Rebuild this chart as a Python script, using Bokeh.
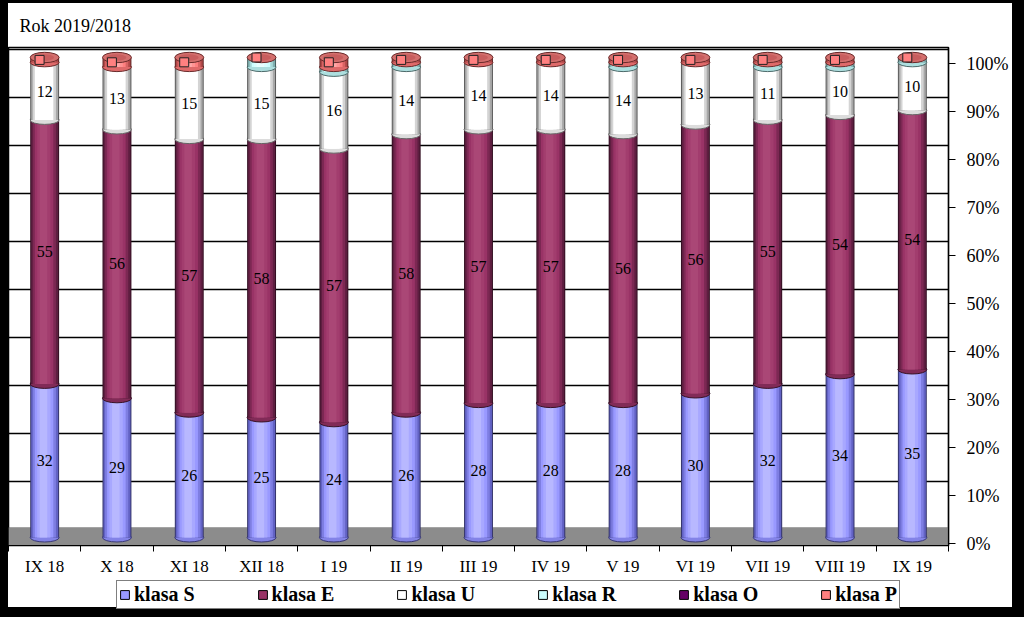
import numpy as np
from bokeh.plotting import figure
from bokeh.layouts import column
from bokeh.models import (Range1d, LinearAxis, FixedTicker, Grid, Legend, LegendItem,
                          ColumnDataSource, BoxAnnotation)
from bokeh.transform import dodge
from bokeh.core.properties import value
from bokeh.embed import file_html
from bokeh.resources import INLINE

# ---------------- data ----------------
months = ["IX 18", "X 18", "XI 18", "XII 18", "I 19", "II 19", "III 19",
          "IV 19", "V 19", "VI 19", "VII 19", "VIII 19", "IX 19"]
klasa_S = [32, 29, 26, 25, 24, 26, 28, 28, 28, 30, 32, 34, 35]
klasa_E = [55, 56, 57, 58, 57, 58, 57, 57, 56, 56, 55, 54, 54]
klasa_U = [12, 13, 15, 15, 16, 14, 14, 14, 14, 13, 11, 10, 10]
klasa_R = [0, 0, 0, 2, 1, 1, 0, 0, 1, 0, 1, 1, 1]
klasa_O = [0, 0, 0, 0, 0, 0, 0, 0, 0, 0, 0, 0, 0]
klasa_P = [1, 2, 2, 0, 2, 1, 1, 1, 1, 1, 1, 1, 0]
series_names = ["klasa S", "klasa E", "klasa U", "klasa R", "klasa O", "klasa P"]
pct_ticks = [0, 10, 20, 30, 40, 50, 60, 70, 80, 90, 100]

# ---------------- styling ----------------
SERIF = "Liberation Serif"
colors = {
    "klasa S": ("#9999FF", "#6262C4", "#B8B8FF"),
    "klasa E": ("#993366", "#5E1E40", "#AA4776"),
    "klasa U": ("#FFFFFF", "#A8A8A8", "#FFFFFF"),
    "klasa R": ("#CCFFFF", "#7FB0B0", "#E8FFFF"),
    "klasa O": ("#660066", "#380038", "#803380"),
    "klasa P": ("#FF8080", "#B04848", "#FFA8A8"),
}


def mix(c1, c2, t):
    a = [int(c1[i:i + 2], 16) for i in (1, 3, 5)]
    b = [int(c2[i:i + 2], 16) for i in (1, 3, 5)]
    return "#%02x%02x%02x" % tuple(int(round(a[k] + (b[k] - a[k]) * t)) for k in range(3))


W_FIG, H_MAIN, H_LEG = 1024, 580, 37
MB_L, MB_R, MB_T, MB_B = 8, 76, 47, 35
FRAME_H = H_MAIN - MB_T - MB_B          # 498 px
PPU = 4.8                               # px per percent
BAR_W = 0.40                            # in category units
ELL_H = 9 / PPU                         # ellipse height in % units

bar_start = -8 / PPU
axis_start = -2 / PPU
grid_start = -16 / PPU
span = FRAME_H / PPU

n = len(months)
xs = [i + 0.5 for i in range(n)]

p = figure(width=W_FIG, height=H_MAIN, output_backend="svg", toolbar_location=None,
           x_range=Range1d(0, n), y_range=Range1d(bar_start, bar_start + span),
           min_border_left=MB_L, min_border_right=MB_R, min_border_top=MB_T,
           min_border_bottom=MB_B)
p.styles = {"box-shadow": "inset 8px 3px 0 0 #000000, inset -12px 0 0 0 #000000",
            "background-color": "white"}
p.background_fill_color = "white"
p.border_fill_color = "white"
p.border_fill_alpha = 0.0
p.outline_line_color = "black"
p.outline_line_width = 1.5
p.xgrid.visible = False
p.ygrid.visible = False
p.yaxis.visible = False

p.title.text = "Rok 2019/2018"
p.title.align = "left"
p.title.offset = 11
p.title.standoff = 23
p.title.text_font = SERIF
p.title.text_font_style = "normal"
p.title.text_font_size = "18px"
p.title.text_color = "black"

p.extra_y_ranges = {"axis": Range1d(axis_start, axis_start + span),
                    "grid": Range1d(grid_start, grid_start + span)}

# back-wall gridlines
g = Grid(dimension=1, ticker=FixedTicker(ticks=pct_ticks[1:]), y_range_name="grid",
         grid_line_color="black", grid_line_width=1.6)
p.add_layout(g)

# floor
floor = BoxAnnotation(top=10 / PPU, fill_color="#8c8c8c", fill_alpha=1.0,
                      line_color="#5a5a5a", line_width=1, level="underlay")
p.add_layout(floor)

# right percent axis
ax = LinearAxis(y_range_name="axis", ticker=FixedTicker(ticks=pct_ticks))
ax.major_label_overrides = {t: f"{t}%" for t in pct_ticks}
ax.major_label_text_font = SERIF
ax.major_label_text_font_size = "18px"
ax.major_label_text_color = "black"
ax.major_tick_out = 7
ax.major_tick_in = 0
ax.minor_tick_out = 0
ax.minor_tick_in = 0
ax.major_label_standoff = 11
ax.axis_line_color = "black"
ax.axis_line_width = 1.2
p.add_layout(ax, "right")

# bottom category axis
xa = p.xaxis[0]
xa.ticker = FixedTicker(ticks=xs, minor_ticks=list(range(n + 1)))
xa.major_label_overrides = {x: m for x, m in zip(xs, months)}
xa.major_label_text_font = SERIF
xa.major_label_text_font_size = "17px"
xa.major_label_text_color = "black"
xa.major_tick_out = 0
xa.major_tick_in = 0
xa.minor_tick_out = 6
xa.minor_tick_in = 0
xa.major_label_standoff = 5
xa.axis_line_color = "black"
xa.axis_line_width = 1.2

# ---------------- cylinders ----------------
vals = [np.array(v, dtype=float) for v in (klasa_S, klasa_E, klasa_U, klasa_R, klasa_O, klasa_P)]
tot = sum(vals)
pcts = [v / tot * 100 for v in vals]
bottoms = []
acc = np.zeros(n)
for pc in pcts:
    bottoms.append(acc.copy())
    acc = acc + pc

for name, raw, pc, bot in zip(series_names, vals, pcts, bottoms):
    base, dark, light = colors[name]
    mask = raw > 0
    src = ColumnDataSource(dict(x=[x for x, m in zip(xs, mask) if m],
                                bottom=bot[mask], top=(bot + pc)[mask]))
    # bottom ellipse (front curve of this segment)
    p.ellipse(x="x", y="bottom", width=BAR_W, height=ELL_H, source=src,
              fill_color=mix(dark, base, 0.6), line_color=mix(dark, "#000000", 0.4), line_width=1)
    strips = [(1.00, 0.0, mix(dark, "#000000", 0.45)),
              (0.93, 0.0, dark),
              (0.80, -0.004, mix(dark, base, 0.5)),
              (0.64, -0.008, base),
              (0.46, -0.012, mix(base, light, 0.5)),
              (0.26, -0.016, light)]
    for frac, off, col in strips:
        p.vbar(x=dodge("x", off), bottom="bottom", top="top", width=BAR_W * frac,
               source=src, fill_color=col, line_color=None)

# top cap
cap_src = ColumnDataSource(dict(x=xs, y=acc))
p.ellipse(x="x", y="y", width=BAR_W, height=ELL_H * 1.15, source=cap_src,
          fill_color="#D4706E", line_color="#6a2a2a", line_width=1)
p.ellipse(x=dodge("x", -0.01), y="y", width=BAR_W * 0.7, height=ELL_H * 0.7, source=cap_src,
          fill_color="#C85E5E", line_color=None)

# data labels
for name, raw, pc, bot in zip(series_names[:3], vals[:3], pcts[:3], bottoms[:3]):
    lsrc = ColumnDataSource(dict(x=xs, y=bot + pc / 2, t=[str(int(v)) for v in raw]))
    p.text(x="x", y="y", text="t", source=lsrc, text_font=value(SERIF),
           text_font_size="16px", text_color="black", text_align="center",
           text_baseline="middle")

# P label keys (red squares)
psrc = ColumnDataSource(dict(x=xs, y=bottoms[5] + pcts[5] / 2))
p.scatter(x=dodge("x", -0.07), y="y", source=psrc, marker="square", size=9,
          fill_color="#FF8080", line_color="#222222", line_width=1)

# ---------------- legend strip ----------------
lp = figure(width=W_FIG, height=H_LEG, output_backend="svg", toolbar_location=None,
            x_range=Range1d(0, 1), y_range=Range1d(0, 1), min_border=0)
lp.styles = {"box-shadow": "inset 8px -10px 0 0 #000000, inset -12px 0 0 0 #000000",
             "background-color": "white"}
lp.axis.visible = False
lp.grid.visible = False
lp.outline_line_color = None
lp.background_fill_alpha = 0.0
lp.border_fill_alpha = 0.0

legend_items = []
for name in series_names:
    base = colors[name][0]
    # swatch renderer: its single point lies outside the visible range
    sw = lp.rect(x=[5], y=[5], width=1, height=1, fill_color=base,
                 line_color="black", line_width=1)
    legend_items.append(LegendItem(label=name, renderers=[sw]))

legend = Legend(items=legend_items, orientation="horizontal", location=(108, 8))
legend.label_text_font = SERIF
legend.label_text_font_style = "bold"
legend.label_text_font_size = "20px"
legend.label_text_color = "black"
legend.glyph_width = 11
legend.glyph_height = 11
legend.label_standoff = 4
legend.label_height = 19
legend.spacing = 62
legend.padding = 2
legend.margin = 0
legend.border_line_color = "black"
legend.border_line_width = 1
legend.background_fill_color = "white"
legend.background_fill_alpha = 1
lp.add_layout(legend, "center")

layout = column(p, lp, spacing=0)
open("out.html", "w").write(file_html(layout, INLINE))
